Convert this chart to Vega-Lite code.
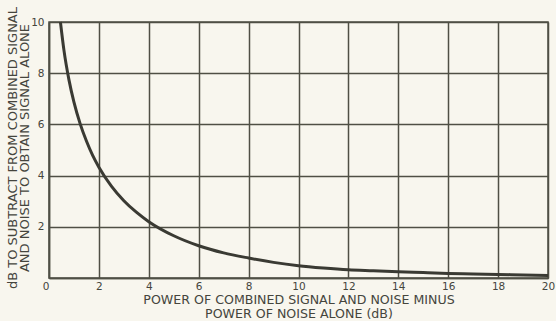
{
  "$schema": "https://vega.github.io/schema/vega-lite/v6.json",
  "autosize": "none",
  "width": 499,
  "height": 256,
  "padding": {"left": 49, "top": 22, "right": 8, "bottom": 43},
  "background": "#f8f6ee",
  "config": {
    "view": {"stroke": "#4f4f45", "strokeWidth": 1.5},
    "font": "DejaVu Sans",
    "axis": {
      "labelFont": "DejaVu Sans",
      "titleFont": "DejaVu Sans",
      "labelColor": "#45453d",
      "titleColor": "#45453d",
      "labelFontSize": 10.5,
      "titleFontWeight": "normal",
      "gridColor": "#4f4f45",
      "gridWidth": 1.5,
      "gridOpacity": 1,
      "domainColor": "#4f4f45",
      "domainWidth": 1.5,
      "ticks": false
    }
  },
  "data": {
    "values": [
      {"x": 0.458, "y": 10},
      {"x": 0.6, "y": 8.89},
      {"x": 0.8, "y": 7.74},
      {"x": 1.0, "y": 6.87},
      {"x": 1.25, "y": 6.02},
      {"x": 1.5, "y": 5.35},
      {"x": 1.75, "y": 4.79},
      {"x": 2.0, "y": 4.33},
      {"x": 2.5, "y": 3.59},
      {"x": 3.0, "y": 3.02},
      {"x": 3.5, "y": 2.57},
      {"x": 4.0, "y": 2.2},
      {"x": 5.0, "y": 1.65},
      {"x": 6.0, "y": 1.26},
      {"x": 7.0, "y": 0.98},
      {"x": 8.0, "y": 0.78},
      {"x": 9.0, "y": 0.61},
      {"x": 10.0, "y": 0.48},
      {"x": 11.0, "y": 0.39},
      {"x": 12.0, "y": 0.32},
      {"x": 13.0, "y": 0.28},
      {"x": 14.0, "y": 0.24},
      {"x": 15.0, "y": 0.21},
      {"x": 16.0, "y": 0.18},
      {"x": 17.0, "y": 0.16},
      {"x": 18.0, "y": 0.14},
      {"x": 19.0, "y": 0.12},
      {"x": 20.0, "y": 0.1}
    ]
  },
  "mark": {"type": "line", "color": "#3a3a33", "strokeWidth": 3, "interpolate": "monotone"},
  "encoding": {
    "x": {
      "field": "x",
      "type": "quantitative",
      "scale": {"domain": [0, 20], "nice": false, "zero": false},
      "axis": {
        "values": [0, 2, 4, 6, 8, 10, 12, 14, 16, 18, 20],
        "labelPadding": 3,
        "labelAlign": {"condition": {"test": "datum.value === 0", "value": "right"}, "value": "center"},
        "title": ["POWER OF COMBINED SIGNAL AND NOISE MINUS", "POWER OF NOISE ALONE (dB)"],
        "titleFontSize": 12.6,
        "titlePadding": 2,
        "titleLineHeight": 14
      }
    },
    "y": {
      "field": "y",
      "type": "quantitative",
      "scale": {"domain": [0, 10], "nice": false},
      "axis": {
        "values": [0, 2, 4, 6, 8, 10],
        "labelExpr": "datum.value === 0 ? '' : datum.label",
        "labelPadding": 5,
        "title": ["dB TO SUBTRACT FROM COMBINED SIGNAL", "AND NOISE TO OBTAIN SIGNAL ALONE"],
        "titleFontSize": 13,
        "titlePadding": -1,
        "titleY": 125.5,
        "titleLineHeight": 12
      }
    }
  }
}
